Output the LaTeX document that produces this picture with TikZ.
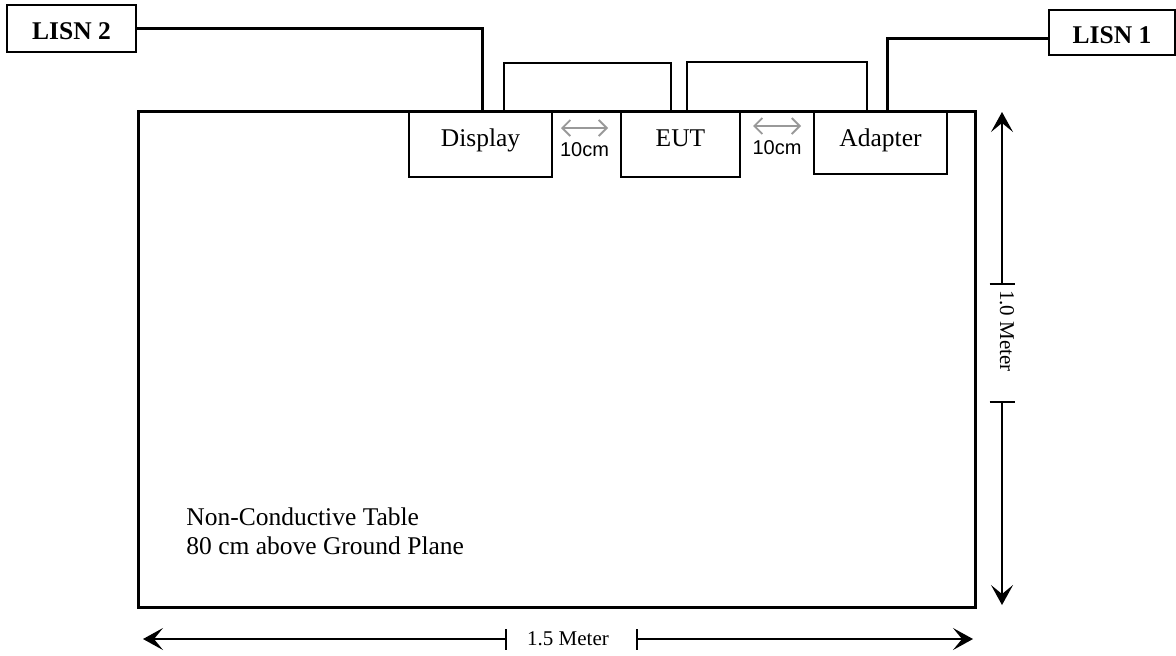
\documentclass[tikz,border=0pt]{standalone}
\usepackage{fontspec}
\setmainfont{Liberation Serif}
\newfontfamily\arialfont{Liberation Sans}
\usetikzlibrary{arrows.meta}

\begin{document}
\begin{tikzpicture}[x=0.5pt, y=-0.5pt,
		unit/.style={draw, line width=1pt, inner sep=0pt, anchor=north, minimum height=32.5pt, text height=9pt, text depth=7.5pt, font=\fontsize{12.75}{14.3}\selectfont},
		lisn/.style={draw, line width=1pt, inner sep=0pt, text height=11pt, text depth=0pt, font=\fontsize{12.75}{14.3}\selectfont\bfseries},
		wire/.style={line width=1.5pt},
		cable/.style={line width=1pt},
		gaparrow/.style={draw=black!40, line width=0.9pt, {Straight Barb[length=4pt,width=8pt]}-{Straight Barb[length=4pt,width=8pt]}},
		gaplabel/.style={inner sep=0pt, font=\arialfont\fontsize{10}{12}\selectfont},
		dim/.style={line width=0.8pt},
		dimarrow/.style={dim, -{Stealth[length=10pt,width=11pt,inset=4.5pt]}},
		dimlabel/.style={inner sep=0pt, font=\fontsize{10.5}{12}\selectfont}]
			\useasboundingbox (0,0) rectangle (1176,655);

			% table
			\node[draw, line width=1.5pt, inner sep=0pt, minimum width=418.5pt, minimum height=248pt] (table) at (556.5,359) {};
			\node[align=left, anchor=west, inner sep=0pt, font=\fontsize{12.75}{14.3}\selectfont] (note) at (186,531) {Non-Conductive Table\\80 cm above Ground Plane};

			% units on the table
			\node[unit, minimum width=71.5pt] (display) at (480.5,111) {Display};
			\node[unit, minimum width=59.5pt] (eut) at (680.5,111) {EUT};
			\node[unit, minimum width=66.5pt, minimum height=31pt, text depth=6pt] (adapter) at (880.5,111) {Adapter};

			% LISNs
			\node[lisn, minimum width=64.5pt, minimum height=23.5pt] (lisn2) at (71.5,28.5) {LISN 2};
			\node[lisn, minimum width=63pt, minimum height=22.5pt] (lisn1) at (1112,32.5) {LISN 1};

			\draw[wire] (lisn2.east) -| ([xshift=0.75pt]display.north);
			\draw[wire] ([yshift=-2.75pt]lisn1.west) -| ([xshift=3.25pt]adapter.north);

			\draw[cable] ([xshift=11.75pt]display.north) -- ++(0,-48) -| ([xshift=-4.75pt]eut.north);
			\draw[cable] ([xshift=3.25pt]eut.north) -- ++(0,-49) -| ([xshift=-6.75pt]adapter.north);

			% 10cm spacing
			\draw[gaparrow] ([xshift=4pt,yshift=-8.5pt]display.north east) -- ([xshift=-6pt,yshift=-8.5pt]eut.north west)
				node[midway, yshift=-11pt, gaplabel] (gapA) {10cm};
			\draw[gaparrow] ([xshift=6pt,yshift=-7.5pt]eut.north east) -- ([xshift=-6pt,yshift=-7.5pt]adapter.north west)
				node[midway, yshift=-11pt, gaplabel] (gapB) {10cm};

			% 1.0 Meter
			\node[dimlabel, rotate=-90] (vlen) at (1007,331) {1.0 Meter};
			\coordinate (vtop) at (1002,112);
			\coordinate (vbot) at (1002,605);
			\coordinate (vbarA) at (1002,284);
			\coordinate (vbarB) at (1002,402);
			\draw[dimarrow] (vbarA) -- (vtop);
			\draw[dimarrow] (vbarB) -- (vbot);
			\draw[dim] ([xshift=-6.25pt]vbarA) -- ([xshift=6.25pt]vbarA);
			\draw[dim] ([xshift=-6.25pt]vbarB) -- ([xshift=6.25pt]vbarB);

			% 1.5 Meter
			\node[dimlabel] (hlen) at (568,639) {1.5 Meter};
			\coordinate (hleft) at (143,639);
			\coordinate (hright) at (973,639);
			\coordinate (hbarA) at (506,639);
			\coordinate (hbarB) at (637,639);
			\draw[dimarrow] (hbarA) -- (hleft);
			\draw[dimarrow] (hbarB) -- (hright);
			\draw[dim] ([yshift=-5.25pt]hbarA) -- ([yshift=5.25pt]hbarA);
			\draw[dim] ([yshift=-5.25pt]hbarB) -- ([yshift=5.25pt]hbarB);
		\end{tikzpicture}
\end{document}
